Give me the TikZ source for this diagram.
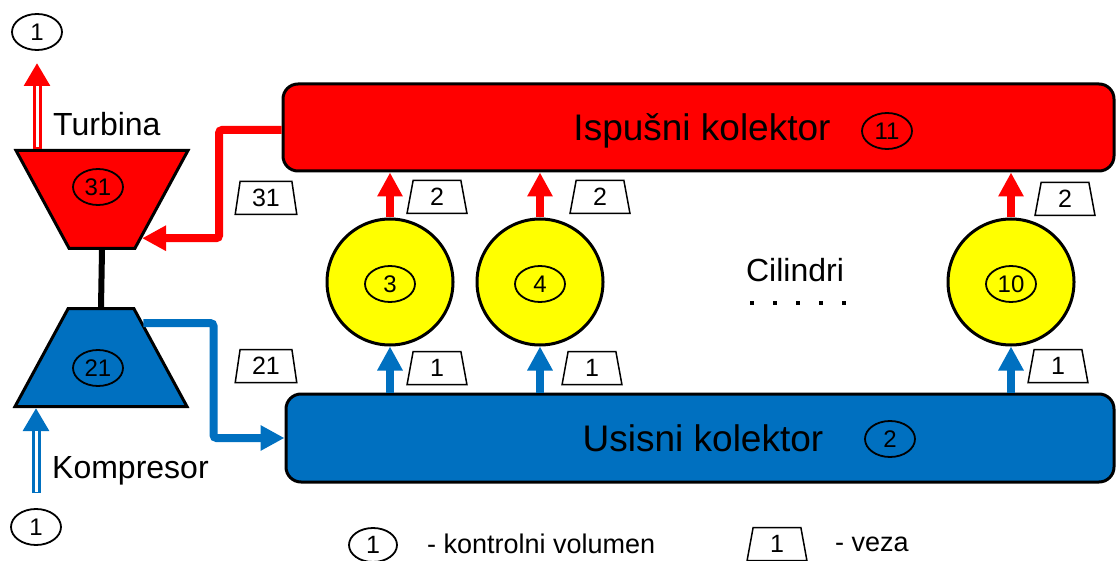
\documentclass[tikz,border=0pt]{standalone}
\usepackage{fontspec}
\setmainfont{Liberation Sans}
\usetikzlibrary{shapes.geometric,arrows.meta}
\definecolor{crvena}{RGB}{255,0,0}
\definecolor{plava}{RGB}{0,112,192}
\definecolor{zuta}{RGB}{255,255,0}
\tikzset{
  kv/.style={ellipse,draw,line width=1.8,minimum width=50,minimum height=36,inner sep=0,font=\fontsize{24}{26}\selectfont},
  veza/.style={trapezium,trapezium left angle=76,trapezium right angle=76,trapezium stretches=true,draw,line width=1.5,fill=white,minimum width=60,minimum height=33,inner xsep=12,inner ysep=1,font=\fontsize{25}{26}\selectfont},
  kolektor/.style={rectangle,rounded corners=15,draw,line width=3,minimum height=87},
  stroj/.style={trapezium,trapezium left angle=51,trapezium right angle=51,trapezium stretches=true,draw,line width=3,minimum width=172,minimum height=98,inner sep=4},
  cil/.style={circle,draw,line width=3,fill=zuta,minimum size=126,inner sep=0},
  cijev/.style={line width=8,rounded corners=3,-{Triangle[width=24,length=24]}},
  dvostruka/.style={line width=9,-{Triangle[width=25,length=23]},postaction={draw=white,line width=3,shorten >=23,shorten <=1.5,-}},
  velik/.style={font=\fontsize{37}{40}\selectfont,inner sep=0},
  oznaka/.style={font=\fontsize{32}{34}\selectfont,inner sep=0},
  legenda/.style={font=\fontsize{27}{29}\selectfont,inner sep=0}
}
\begin{document}
\begin{tikzpicture}[x=1pt,y=-1pt]
	\useasboundingbox (0,0) rectangle (1116,561);
	% kolektori
	\node[kolektor,fill=crvena,minimum width=831] (isp) at (698.5,127.5) {};
	\node[kolektor,fill=plava,minimum width=828,minimum height=88] (usi) at (700,438) {};
	\node[velik] (ispT) at (702,131) {Ispušni kolektor};
	\node[kv] (k11) at (887,131) {11};
	\node[velik] (usiT) at (703,438) {Usisni kolektor};
	\node[kv] (k2) at (890,439) {2};
	% turbina i kompresor
	\node[stroj,fill=crvena,shape border rotate=180] (turb) at (102,199.5) {};
	\node[stroj,fill=plava] (komp) at (101,357.5) {};
	\node[kv] (k31) at (98,187) {31};
	\node[kv] (k21) at (98,368) {21};
	\draw[line width=6] (turb.south) -- (komp.north);
	\node[oznaka,anchor=west] (turbT) at (53,124) {Turbina};
	\node[oznaka,anchor=west] (kompT) at (52,471) {Kompresor};
	\node[kv] (k1g) at (37,32) {1};
	\node[kv] (k1d) at (36,527) {1};
	\coordinate (izlaz) at (37,63);
	\coordinate (ulaz) at (36,493);
	\draw[dvostruka,crvena] (turb.north -| izlaz) -- (izlaz);
	\draw[dvostruka,plava] (ulaz) -- (ulaz |- komp.south);
	% cijevi
	\draw[cijev,crvena] ([yshift=-2.5]isp.west) -| ([xshift=77]turb.-44) -- (turb.-44);
	\draw[cijev,plava] (komp.39) -| ([xshift=-71]usi.west) -- (usi.west);
	\node[veza] (v31) at (266,198) {31};
	\node[veza] (v21) at (266,366) {21};
	% cilindri
	\foreach \n/\x in {3/390,4/540,10/1011}{
		\node[cil] (c\n) at (\x,282) {};
		\node[kv] (kc\n) at (\x,284) {\n};
		\draw[cijev,crvena] (c\n.north) -- (c\n.north |- isp.south);
		\draw[cijev,plava] (c\n.south |- usi.north) -- (c\n.south);
	}
	\foreach \n/\x/\y in {3/437/197,4/600/197,10/1065/199}{\node[veza] (vi\n) at (\x,\y) {2};}
	\foreach \n/\x/\y in {3/437/368,4/592/368,10/1058/366}{\node[veza] (vu\n) at (\x,\y) {1};}
	\node[oznaka] (cilT) at (795,270) {Cilindri};
	\foreach \i in {0,...,4}{\fill (750+23*\i,301) rectangle ++(4,4);}
	% legenda
	\node[kv,minimum width=48,minimum height=34,font=\fontsize{25}{26}\selectfont] (lkv) at (373,545) {1};
	\node[legenda,anchor=west] (lkvT) at (427,544) {- kontrolni volumen};
	\node[veza] (lv) at (777,544) {1};
	\node[legenda,anchor=west] (lvT) at (835,544) {- veza};
\end{tikzpicture}
\end{document}
